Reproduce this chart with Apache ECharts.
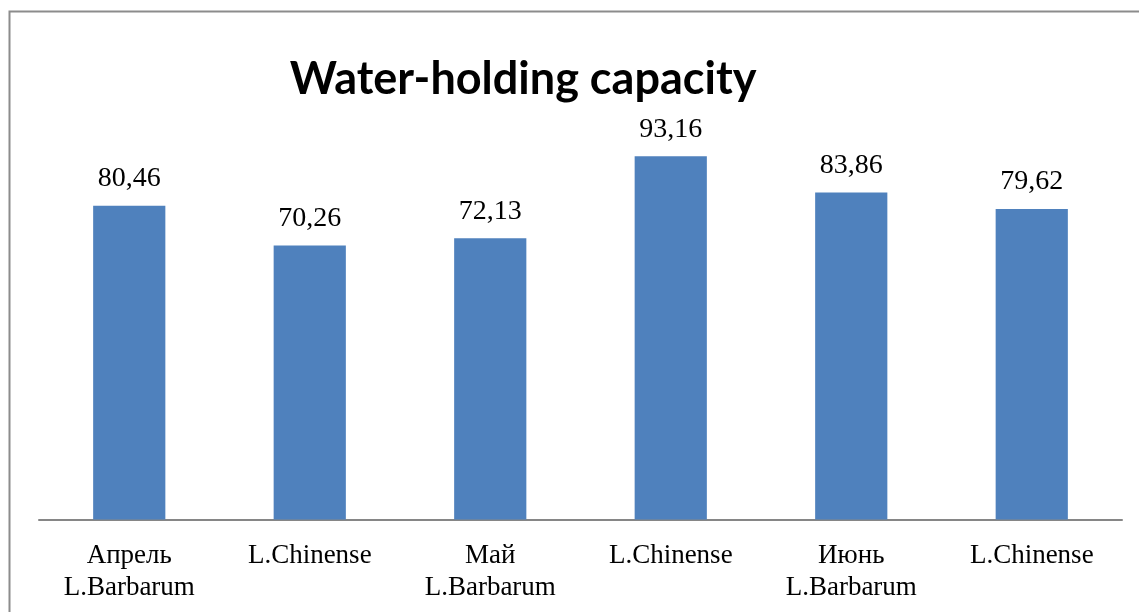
<!DOCTYPE html>
<html>
<head>
<meta charset="utf-8">
<script src="https://cdn.jsdelivr.net/npm/echarts@6/dist/echarts.min.js"></script>
<style>html,body{margin:0;padding:0;background:#fff;}#c{width:1139px;height:612px;}</style>
</head>
<body>
<div id="c"></div>
<script>
const categories = ['Апрель\nL.Barbarum', 'L.Chinense', 'Май\nL.Barbarum', 'L.Chinense', 'Июнь\nL.Barbarum', 'L.Chinense'];
const values = [80.46, 70.26, 72.13, 93.16, 83.86, 79.62];
const titleText = 'Water-holding capacity';

const chart = echarts.init(document.getElementById('c'));
chart.setOption({
  animation: false,
  backgroundColor: '#fff',
  title: {
    text: titleText,
    left: 518, top: 52, textAlign: 'center',
    textStyle: { fontFamily: 'Lato', fontWeight: 'bold', fontSize: 45, color: '#000' }
  },
  graphic: [{
    type: 'rect', shape: { x: 9.5, y: 11.5, width: 1300, height: 800 },
    style: { fill: 'none', stroke: '#8c8c8c', lineWidth: 2 }, silent: true, z: 100
  }],
  grid: { left: 39, right: 17, top: 129.5, bottom: 92.5 },
  xAxis: {
    type: 'category', data: categories,
    axisLine: { show: true, lineStyle: { color: '#868686', width: 2 } },
    axisTick: { show: false },
    axisLabel: { interval: 0, margin: 20, fontFamily: 'Liberation Serif', fontSize: 27, lineHeight: 32, color: '#000' }
  },
  yAxis: { type: 'value', min: 0, max: 100, show: false, splitLine: { show: false } },
  series: [{
    type: 'bar', data: values, barWidth: '40%',
    itemStyle: { color: '#4F81BD' },
    label: {
      show: true, position: 'top', distance: 13,
      fontFamily: 'Liberation Serif', fontSize: 28, color: '#000',
      formatter: p => p.value.toFixed(2).replace('.', ',')
    }
  }]
});
</script>
</body>
</html>
